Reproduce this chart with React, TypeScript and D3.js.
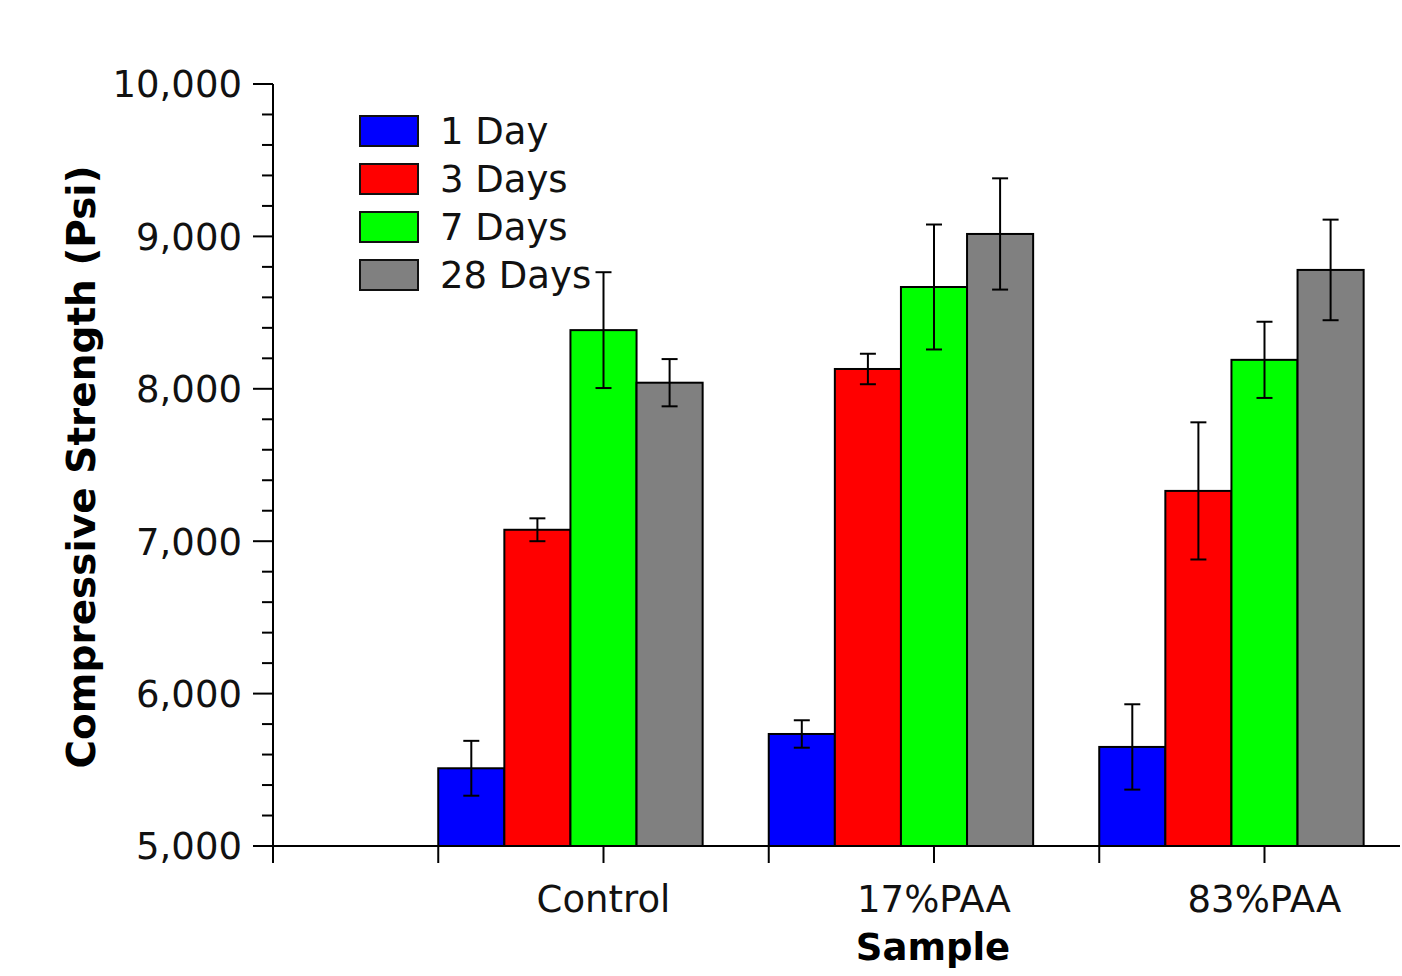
import React from "react";
import * as d3 from "d3";

const categories = ["Control", "17%PAA", "83%PAA"];
const seriesNames = ["1 Day", "3 Days", "7 Days", "28 Days"];
const seriesColors = ["#0000ff", "#ff0000", "#00ff00", "#808080"];
// values[category][series]
const values = [
  [5510, 7075, 8385, 8040],
  [5735, 8130, 8668, 9016],
  [5650, 7330, 8190, 8780],
];
const errors = [
  [180, 75, 380, 155],
  [90, 100, 410, 365],
  [280, 450, 250, 330],
];
const yTicks = [5000, 6000, 7000, 8000, 9000, 10000];
const groupStarts = [1, 3, 5];
const labelPositions = [2, 4, 6];
const xTicks = [0, 1, 2, 3, 4, 5, 6];

const W = 1402;
const H = 976;
const FONT = "'DejaVu Sans', sans-serif";
const FS = 37;

export default function App() {
  const x = d3.scaleLinear().domain([0, 6.82]).range([273, 1400]);
  const y = d3.scaleLinear().domain([5000, 10000]).range([846, 84]);
  const barW = 0.4;
  const minorTicks = d3.range(5000, 10001, 200).filter((v) => v % 1000 !== 0);
  const fmt = d3.format(",");

  return (
    <svg
      width={W}
      height={H}
      style={{ position: "absolute", left: 0, top: 0, background: "#fff" }}
      fontFamily={FONT}
    >
      <rect width={W} height={H} fill="#fff" />
      {/* bars */}
      {categories.map((c, ci) =>
        seriesNames.map((s, si) => {
          const x0 = x(groupStarts[ci] + si * barW);
          const x1 = x(groupStarts[ci] + (si + 1) * barW);
          const v = values[ci][si];
          return (
            <rect
              key={c + s}
              x={x0}
              y={y(v)}
              width={x1 - x0}
              height={y(5000) - y(v)}
              fill={seriesColors[si]}
              stroke="#000"
              strokeWidth={2}
            />
          );
        })
      )}
      {/* error bars */}
      {categories.map((c, ci) =>
        seriesNames.map((s, si) => {
          const cx = x(groupStarts[ci] + (si + 0.5) * barW);
          const v = values[ci][si];
          const e = errors[ci][si];
          const yt = y(v + e);
          const yb = y(v - e);
          return (
            <g key={"e" + c + s} stroke="#000" strokeWidth={2}>
              <line x1={cx} x2={cx} y1={yt} y2={yb} />
              <line x1={cx - 8} x2={cx + 8} y1={yt} y2={yt} />
              <line x1={cx - 8} x2={cx + 8} y1={yb} y2={yb} />
            </g>
          );
        })
      )}
      {/* y axis */}
      <line x1={273} x2={273} y1={y(10000)} y2={y(5000)} stroke="#000" strokeWidth={2} />
      {yTicks.map((t) => (
        <g key={"yt" + t}>
          <line x1={253} x2={273} y1={y(t)} y2={y(t)} stroke="#000" strokeWidth={2} />
          <text
            x={242}
            y={y(t)}
            dy="0.36em"
            textAnchor="end"
            fontSize={FS}
            fill="#111"
          >
            {fmt(t)}
          </text>
        </g>
      ))}
      {minorTicks.map((t) => (
        <line key={"ym" + t} x1={262} x2={273} y1={y(t)} y2={y(t)} stroke="#000" strokeWidth={2} />
      ))}
      {/* x axis */}
      <line x1={273} x2={1400} y1={846} y2={846} stroke="#000" strokeWidth={2} />
      {xTicks.map((t) => (
        <line key={"xt" + t} x1={x(t)} x2={x(t)} y1={846} y2={863} stroke="#000" strokeWidth={2} />
      ))}
      {categories.map((c, ci) => (
        <text
          key={"xl" + c}
          x={x(labelPositions[ci])}
          y={912}
          textAnchor="middle"
          fontSize={FS}
          fill="#111"
        >
          {c}
        </text>
      ))}
      {/* axis titles */}
      <text
        x={933}
        y={960}
        textAnchor="middle"
        fontSize={FS}
        fontWeight="bold"
        fill="#000"
      >
        Sample
      </text>
      <text
        transform={`translate(95, 467) rotate(-90)`}
        textAnchor="middle"
        fontSize={39}
        fontWeight="bold"
        fill="#000"
      >
        Compressive Strength (Psi)
      </text>
      {/* legend */}
      {seriesNames.map((s, si) => (
        <g key={"lg" + s} transform={`translate(360, ${116 + si * 48})`}>
          <rect width={58} height={30} fill={seriesColors[si]} stroke="#111" strokeWidth={2} />
          <text x={80} y={15} dy="0.36em" fontSize={FS} fill="#111">
            {s}
          </text>
        </g>
      ))}
    </svg>
  );
}
